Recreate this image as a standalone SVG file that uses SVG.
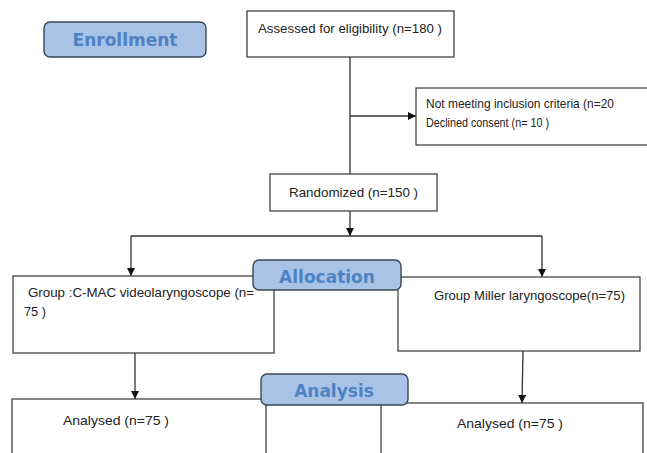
<svg xmlns="http://www.w3.org/2000/svg" width="647" height="453" viewBox="0 0 647 453">
<style>
.box{fill:#fff;stroke:#444;stroke-width:1.3}
.hdr{fill:#a9c3e7;stroke:#3b4654;stroke-width:1.4}
.ht{font-family:"DejaVu Sans",sans-serif;font-weight:bold;font-size:17px;fill:#4d82c3;text-anchor:middle}
.t{font-family:"Liberation Sans",Arial,sans-serif;font-size:13.5px;fill:#222}
.ln{stroke:#333;stroke-width:1.3;fill:none}
</style>
<defs>
<marker id="ah" viewBox="0 0 10 10" refX="10" refY="5" markerWidth="8" markerHeight="8" markerUnits="userSpaceOnUse" orient="auto">
<path d="M0,0 L10,5 L0,10 z" fill="#111"/>
</marker>
</defs>
<g id="connectors">
<path class="ln" d="M350,57 V174"/>
<path class="ln" d="M350,116 H416" marker-end="url(#ah)"/>
<path class="ln" d="M350,211 V236" marker-end="url(#ah)"/>
<path class="ln" d="M131,236 H542"/>
<path class="ln" d="M131,236 V276" marker-end="url(#ah)"/>
<path class="ln" d="M542,236 V277" marker-end="url(#ah)"/>
<path class="ln" d="M135,353 V399" marker-end="url(#ah)"/>
<path class="ln" d="M523,351 L522,403" marker-end="url(#ah)"/>
</g>
<g id="enrollment">
<rect class="hdr" x="44" y="22" width="162" height="35" rx="6"/>
<text class="ht" x="125" y="46">Enrollment</text>
</g>
<g id="assessed">
<rect class="box" x="247" y="11" width="207" height="46"/>
<text class="t" x="258" y="33" textLength="184" lengthAdjust="spacingAndGlyphs">Assessed for eligibility (n=180  )</text>
</g>
<g id="excluded">
<rect class="box" x="416" y="88" width="240" height="57"/>
<text class="t" x="426" y="108" textLength="188" lengthAdjust="spacingAndGlyphs">Not meeting inclusion criteria  (n=20</text>
<text class="t" x="426" y="127" textLength="123" lengthAdjust="spacingAndGlyphs">Declined consent (n= 10 )</text>
</g>
<g id="randomized">
<rect class="box" x="270" y="174" width="167" height="37"/>
<text class="t" x="289" y="197" textLength="129" lengthAdjust="spacingAndGlyphs">Randomized (n=150  )</text>
</g>
<g id="group-cmac">
<rect class="box" x="13" y="276" width="261" height="77"/>
<text class="t" x="28" y="297" textLength="226" lengthAdjust="spacingAndGlyphs">Group :C-MAC videolaryngoscope (n=</text>
<text class="t" x="24" y="316" textLength="22" lengthAdjust="spacingAndGlyphs">75 )</text>
</g>
<g id="group-miller">
<rect class="box" x="398" y="277" width="242" height="74"/>
<text class="t" x="434" y="300" textLength="191" lengthAdjust="spacingAndGlyphs">Group Miller laryngoscope(n=75)</text>
</g>
<g id="allocation">
<rect class="hdr" x="253" y="260" width="148" height="30" rx="6"/>
<text class="ht" x="327" y="283">Allocation</text>
</g>
<g id="analysed-left">
<rect class="box" x="12" y="399" width="254" height="70"/>
<text class="t" x="63" y="425" textLength="106" lengthAdjust="spacingAndGlyphs">Analysed  (n=75  )</text>
</g>
<g id="analysed-right">
<rect class="box" x="381" y="403" width="262" height="70"/>
<text class="t" x="457" y="428" textLength="106" lengthAdjust="spacingAndGlyphs">Analysed  (n=75  )</text>
</g>
<g id="analysis">
<rect class="hdr" x="261" y="374" width="147" height="31" rx="6"/>
<text class="ht" x="334" y="397">Analysis</text>
</g>
</svg>
